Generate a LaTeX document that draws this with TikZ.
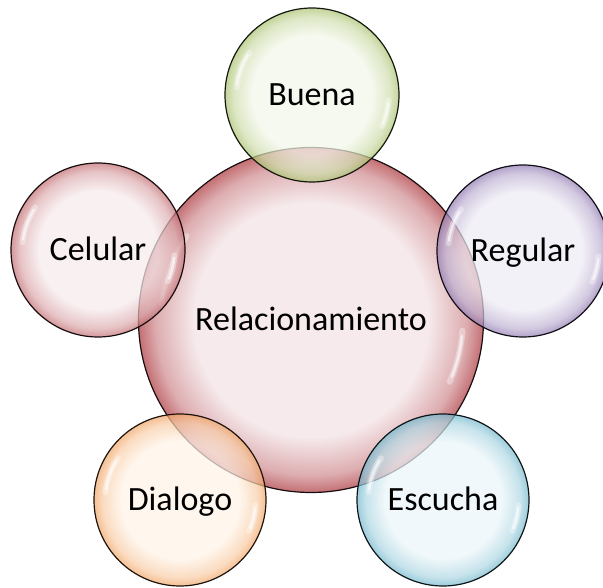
\documentclass[tikz,border=0pt]{standalone}
\usepackage{fontspec}
\setmainfont{Carlito}
\usetikzlibrary{calc}
\colorlet{bubin}{white}
\colorlet{bubmid}{white}
\colorlet{bubout}{gray}
\pgfdeclareradialshading[bubin,bubmid,bubout]{bubble}{\pgfpointorigin}{color(0bp)=(bubin);color(17bp)=(bubin);color(22.5bp)=(bubmid);color(25bp)=(bubout);color(50bp)=(bubout)}
\definecolor{redin}{RGB}{246,234,236}
\definecolor{redout}{RGB}{196,112,116}
\definecolor{grnin}{RGB}{243,247,234}
\definecolor{grnout}{RGB}{172,196,114}
\definecolor{purin}{RGB}{239,236,245}
\definecolor{purout}{RGB}{148,126,180}
\definecolor{orgin}{RGB}{255,244,232}
\definecolor{orgout}{RGB}{242,168,106}
\definecolor{bluin}{RGB}{234,245,249}
\definecolor{bluout}{RGB}{118,186,206}
\tikzset{
  setbin/.code={\colorlet{bubin}{#1}},
  setbmid/.code={\colorlet{bubmid}{#1}},
  setbout/.code={\colorlet{bubout}{#1}},
  bub/.style 2 args={circle, draw=#2!12!black, line width=1.2pt, shade, shading=bubble,
    setbin=#1, setbmid={#1!50!#2}, setbout=#2,
    font=\fontsize{34}{40}\selectfont, text height=22pt, text depth=0pt, inner sep=0pt},
  sat/.style={fill opacity=0.72, text opacity=1},
  glowwide/.style={white, line width=6pt, line cap=round, opacity=0.35},
  glow/.style={white, line width=2.5pt, line cap=round, opacity=0.6},
}
\newcommand\bubgloss[2]{%
  \draw[glowwide] ($(#1.center)+(146:0.87*#2)$) arc[start angle=146,end angle=174,radius=0.87*#2];
  \draw[glow] ($(#1.center)+(148:0.87*#2)$) arc[start angle=148,end angle=172,radius=0.87*#2];
  \draw[glowwide] ($(#1.center)+(-24:0.88*#2)$) arc[start angle=-24,end angle=-4,radius=0.88*#2];
  \draw[glow] ($(#1.center)+(-22:0.88*#2)$) arc[start angle=-22,end angle=-6,radius=0.88*#2];}
\begin{document}
\begin{tikzpicture}[x=1pt,y=1pt]
\useasboundingbox (0,0) rectangle (603,587);
\node[bub={redin}{redout}, minimum size=345pt] (rel) at (311,267) {Relacionamiento};
\bubgloss{rel}{172.5}
\node[bub={grnin}{grnout}, sat, minimum size=174pt] (buena) at (312,492) {Buena};
\bubgloss{buena}{87}
\node[bub={redin}{redout}, sat, minimum size=174pt] (celular) at (98,337) {Celular};
\bubgloss{celular}{87}
\node[bub={purin}{purout}, sat, minimum size=172pt] (regular) at (523,336) {Regular};
\bubgloss{regular}{86}
\node[bub={orgin}{orgout}, sat, minimum size=172pt] (dialogo) at (180,87) {Dialogo};
\bubgloss{dialogo}{86}
\node[bub={bluin}{bluout}, sat, minimum size=172pt] (escucha) at (443,87) {Escucha};
\bubgloss{escucha}{86}
\end{tikzpicture}
\end{document}
